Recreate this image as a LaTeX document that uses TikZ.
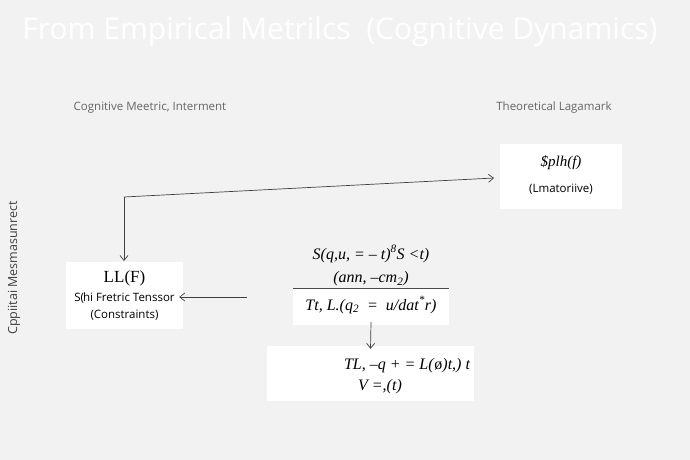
\documentclass[tikz,border=0pt]{standalone}
\usepackage{fontspec}
\setmainfont{Liberation Serif}
\setsansfont{Open Sans}
\usetikzlibrary{arrows.meta}
\begin{document}
\begin{tikzpicture}[x=1pt,y=-1pt,
  box/.style={fill=white,draw=none,inner sep=0pt},
  lab/.style={font=\sffamily\fontsize{11.5}{13}\selectfont,text=black!60},
  sm/.style={font=\sffamily\fontsize{11.5}{13}\selectfont},
  eq/.style={font=\itshape\fontsize{16}{18}\selectfont},
  conn/.style={draw=black!75,line width=0.7pt,-{Straight Barb[length=5pt,width=8pt]}}]
\fill[black!5] (0,0) rectangle (690,460);
\useasboundingbox (0,0) rectangle (690,460);
\node[text=white,font=\sffamily\fontsize{30}{34}\selectfont] (title) at (340,32) {From Empirical Metrilcs\ \ (Cognitive Dynamics)};
\node[lab] (l1) at (150,108) {Cognitive Meetric, Interment};
\node[lab] (l2) at (554,108) {Theoretical Lagamark};
\node[lab,rotate=90,text=black!75,font=\sffamily\fontsize{12.5}{14}\selectfont] (side) at (14,268) {Cppiitai Mesmasunrect};
% right box
\node[box,minimum width=122pt,minimum height=65pt] (R) at (561,176.5) {};
\node[eq,font=\itshape\fontsize{15}{17}\selectfont] (r1) at (561,163) {\$plh(f)};
\node[sm] (r2) at (561,189) {(Lmatoriive)};
% left box
\node[box,minimum width=117pt,minimum height=67pt] (L) at (124.5,295.5) {};
\node[font=\fontsize{17}{19}\selectfont] (L1) at (124.5,278) {LL(F)};
\node[sm] (L2) at (124.5,298) {S(\kern-1pt hi Fretric Tenssor};
\node[sm] (L3) at (124.5,315) {(Constraints)};
% middle
\node[eq] (m1) at (371,254) {S(q,u, = -- t)\textsuperscript{8}S <t)};
\node[eq] (m2) at (371,279) {(ann, --cm\textsubscript{2})};
\node[box,minimum width=156pt,minimum height=37pt] (M) at (371,306.5) {};
\node[eq] (m3) at (371,305) {Tt, L.(q\textsubscript{2} \ = \ u/dat\textsuperscript{*}r)};
\draw[black!70,line width=0.6pt] (M.north west) -- (M.north east);
% bottom
\node[box,minimum width=207pt,minimum height=55pt] (B) at (370.5,373.5) {};
\node[eq] (b1) at (407,366) {TL, --q + = L(\textup{\o})t,) t};
\node[eq] (b2) at (380,387) {V =,(t)};
% connectors
\coordinate (c1) at (124,197);
\coordinate (lt) at (124,261);
\coordinate (re) at (494,178);
\draw[conn] (c1) -- (lt);
\draw[conn] (c1) -- (re);
\coordinate (s1) at (247,297);
\draw[conn] (s1) -- ([xshift=-4pt]L.east |- s1);
\draw[conn] ([yshift=3pt]M.south) -- ([yshift=-3pt]B.north);
\end{tikzpicture}
\end{document}
